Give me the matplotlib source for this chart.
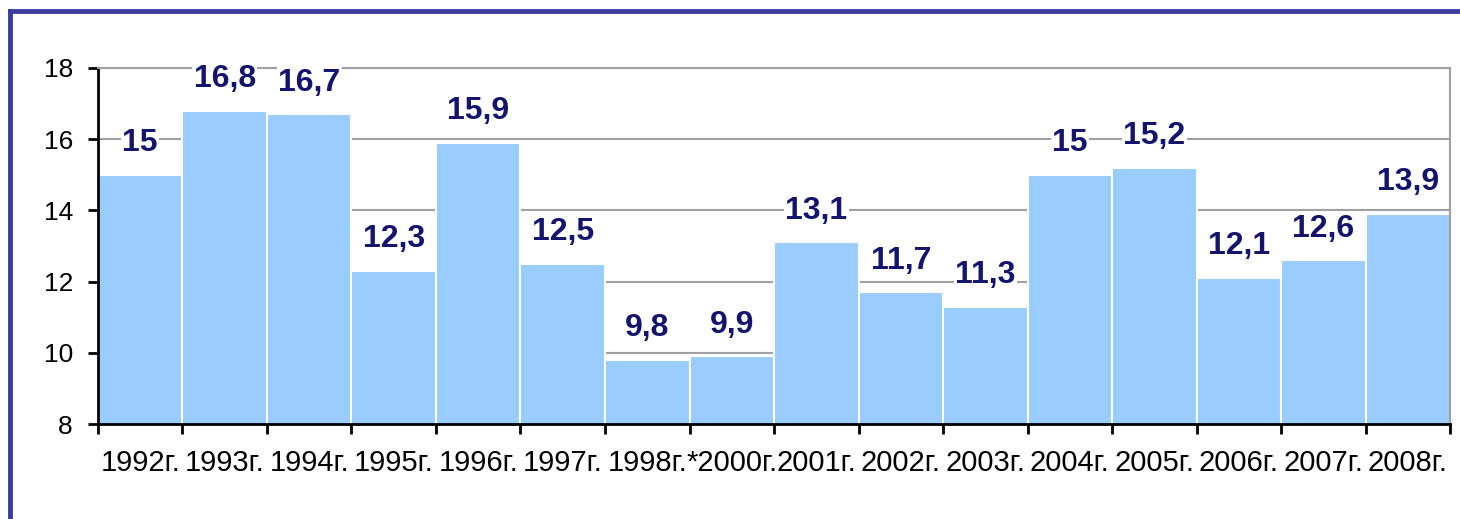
import matplotlib.pyplot as plt
import numpy as np
from matplotlib.lines import Line2D

years = ["1992г.", "1993г.", "1994г.", "1995г.", "1996г.", "1997г.", "1998г.", "*2000г.",
         "2001г.", "2002г.", "2003г.", "2004г.", "2005г.", "2006г.", "2007г.", "2008г."]
values = [15, 16.8, 16.7, 12.3, 15.9, 12.5, 9.8, 9.9, 13.1, 11.7, 11.3, 15, 15.2, 12.1, 12.6, 13.9]
value_labels = [f"{v:g}".replace(".", ",") for v in values]

bar_color = "#99ccff"
label_color = "#14146e"
frame_color = "#3d3d9e"

fig = plt.figure(figsize=(14.6, 5.19), dpi=100)
ax = fig.add_axes([0.0671, 0.183, 0.9261, 0.686])

x = np.arange(len(years))
bars = ax.bar(x, values, width=1.0, color=bar_color, edgecolor="white", linewidth=1.5, zorder=2)
ax.bar_label(bars, labels=value_labels, padding=12, fontsize=23, fontweight="bold",
             color=label_color, family=["Liberation Sans", "DejaVu Sans"],
             bbox=dict(facecolor="white", edgecolor="none", pad=1), zorder=3)

ax.set_xlim(-0.5, len(years) - 0.5)
ax.set_ylim(8, 18)
ax.set_yticks(np.arange(8, 19, 2))
ax.yaxis.grid(True, color="#a0a0a0", linewidth=1.5, zorder=1)
ax.set_axisbelow(True)

ax.set_xticks(x)
ax.set_xticklabels(years, family=["Liberation Sans Narrow", "Liberation Sans", "DejaVu Sans"], fontsize=21)
ax.set_xticks(np.arange(-0.5, len(years), 1.0), minor=True)
ax.tick_params(axis="x", which="major", length=0, pad=18)
ax.tick_params(axis="x", which="minor", length=7, width=2, color="black")
ax.tick_params(axis="y", length=7, width=2, pad=11, labelsize=19)
for lbl in ax.get_yticklabels():
    lbl.set_family(["Liberation Sans", "DejaVu Sans"])

ax.spines["left"].set_color("black")
ax.spines["left"].set_linewidth(2)
ax.spines["bottom"].set_color("black")
ax.spines["bottom"].set_linewidth(2)
ax.spines["top"].set_color("#a0a0a0")
ax.spines["top"].set_linewidth(1.5)
ax.spines["right"].set_color("#a0a0a0")
ax.spines["right"].set_linewidth(1.5)

# outer frame (left and top edges visible)
fig.add_artist(Line2D([10 / 1460, 10 / 1460], [0, 1 - 11 / 519], color=frame_color, linewidth=3.5,
                      transform=fig.transFigure, solid_capstyle="projecting"))
fig.add_artist(Line2D([10 / 1460, 1], [1 - 11 / 519, 1 - 11 / 519], color=frame_color, linewidth=3.5,
                      transform=fig.transFigure, solid_capstyle="projecting"))

fig.savefig("out.png", dpi=100)
